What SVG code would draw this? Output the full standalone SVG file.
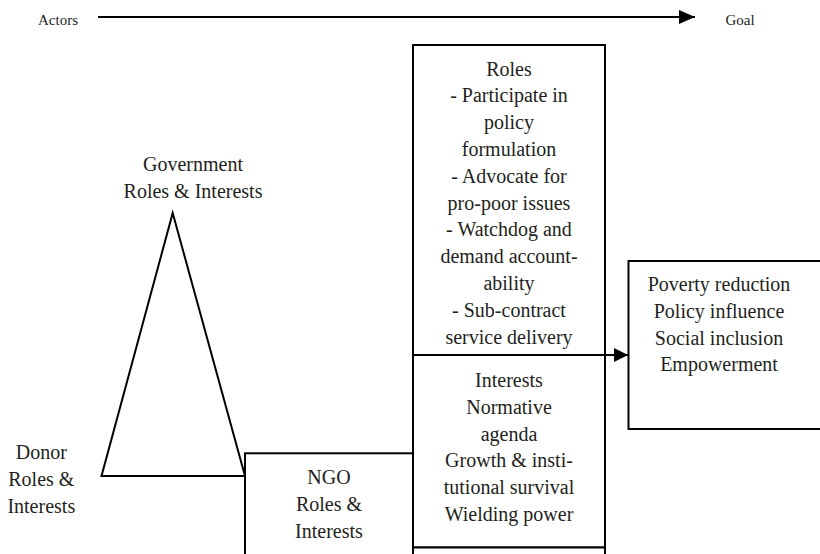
<svg xmlns="http://www.w3.org/2000/svg" width="820" height="554" viewBox="0 0 820 554">
<style>
text{font-family:"Liberation Serif","Times New Roman",serif;font-size:20px;fill:#231f20;text-anchor:middle}
text.small{font-size:15px}
.shape{fill:#fff;stroke:#000;stroke-width:2}
.edge{fill:none;stroke:#000;stroke-width:2}
</style>
<defs>
<marker id="ah" viewBox="0 0 14 14" refX="14" refY="7" markerWidth="14" markerHeight="14" markerUnits="userSpaceOnUse" orient="auto">
<path d="M0,0 L14,7 L0,14 z" fill="#000"/>
</marker>
<marker id="ah2" viewBox="0 0 16 14" refX="16" refY="7" markerWidth="16" markerHeight="14" markerUnits="userSpaceOnUse" orient="auto">
<path d="M0,0 L16,7 L0,14 z" fill="#000"/>
</marker>
</defs>
<rect width="820" height="554" fill="#fff"/>
<g id="actors"><text class="small" x="58" y="25">Actors</text></g>
<g id="goal-label"><text class="small" x="740" y="25">Goal</text></g>
<g id="government"><text x="193" y="171">Government</text><text x="193" y="197.8">Roles &amp; Interests</text></g>
<g id="triangle"><polygon class="shape" points="172.7,213 101.5,476 245,476"/></g>
<g id="donor"><text x="41.3" y="458.5">Donor</text><text x="41.3" y="485.5">Roles &amp;</text><text x="41.3" y="512.5">Interests</text></g>
<g id="ngo"><rect class="shape" x="245" y="453.3" width="168" height="120"/><text x="329" y="483.5">NGO</text><text x="329" y="510.5">Roles &amp;</text><text x="329" y="537.5">Interests</text></g>
<g id="roles"><rect class="shape" x="413" y="45" width="192" height="310"/>
<text x="509" y="75.5">Roles</text>
<text x="509" y="102.3">- Participate in</text>
<text x="509" y="129.1">policy</text>
<text x="509" y="155.9">formulation</text>
<text x="509" y="182.7">- Advocate for</text>
<text x="509" y="209.5">pro-poor issues</text>
<text x="509" y="236.3">- Watchdog and</text>
<text x="509" y="263.1">demand account-</text>
<text x="509" y="289.9">ability</text>
<text x="509" y="316.7">- Sub-contract</text>
<text x="509" y="343.5">service delivery</text>
</g>
<g id="interests"><rect class="shape" x="413" y="355" width="192" height="192.5"/>
<text x="509" y="387">Interests</text>
<text x="509" y="413.8">Normative</text>
<text x="509" y="440.6">agenda</text>
<text x="509" y="467.4">Growth &amp; insti-</text>
<text x="509" y="494.2">tutional survival</text>
<text x="509" y="521">Wielding power</text>
</g>
<g id="bottom-box"><rect class="shape" x="413" y="547.5" width="192" height="30"/></g>
<g id="goal"><rect class="shape" x="628.5" y="261" width="200" height="168"/>
<text x="719" y="291">Poverty reduction</text>
<text x="719" y="317.8">Policy influence</text>
<text x="719" y="344.6">Social inclusion</text>
<text x="719" y="371.4">Empowerment</text>
</g>
<g id="connectors">
<line class="edge" x1="98" y1="17" x2="695" y2="17" marker-end="url(#ah2)"/>
<line class="edge" x1="605" y1="355" x2="628" y2="355" marker-end="url(#ah)"/>
</g>
</svg>
